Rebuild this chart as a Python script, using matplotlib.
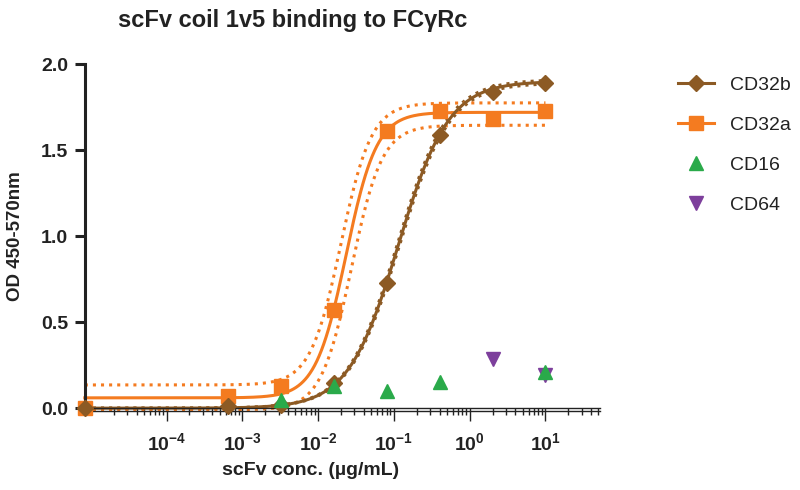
import numpy as np
import matplotlib
matplotlib.use('Agg')
import matplotlib.pyplot as plt
from matplotlib.ticker import LogLocator, FixedLocator, NullFormatter

plt.rcParams['font.family'] = ['Liberation Sans', 'DejaVu Sans']
plt.rcParams['mathtext.fontset'] = 'custom'
plt.rcParams['mathtext.rm'] = 'Liberation Sans'
plt.rcParams['mathtext.bf'] = 'Liberation Sans:bold'

# concentrations (ug/mL), 5-fold dilutions from 10, first point = blank
conc = [8.3e-6, 0.00064, 0.0032, 0.016, 0.08, 0.4, 2.0, 10.0]

cd32b = [0.0, 0.015, 0.02, 0.145, 0.73, 1.59, 1.84, 1.89]
cd32a = [0.0, 0.07, 0.13, 0.57, 1.61, 1.73, 1.68, 1.73]
cd16 = [np.nan, np.nan, 0.05, 0.13, 0.10, 0.15, np.nan, 0.21]
cd64 = [np.nan, np.nan, np.nan, np.nan, np.nan, np.nan, 0.285, 0.19]

# 4PL fit parameters: bottom, top, logEC50, hill
fit_32b = (0.0, 1.90, -0.941, 1.31)
fit_32b_lo = (0.0, 1.89, -0.928, 1.31)
fit_32b_hi = (0.0, 1.91, -0.954, 1.31)
fit_32a = (0.06, 1.72, -1.632, 2.15)
fit_32a_hi = (0.135, 1.775, -1.70, 2.15)
fit_32a_lo = (-0.01, 1.645, -1.56, 2.15)

brown = '#8c5a24'
orange = '#f47b20'
green = '#2aaa4a'
purple = '#7d3f9c'
ink = '#222222'


def four_pl(x, p):
    b, t, L, h = p
    return b + (t - b) / (1 + 10 ** ((L - np.log10(x)) * h))


fig = plt.figure(figsize=(8, 4.9), dpi=100)
ax = fig.add_axes([0.106, 0.167, 0.644, 0.702])

xs = np.logspace(np.log10(conc[0]), 1, 400)

ax.plot(xs, four_pl(xs, fit_32b_lo), ':', color=brown, lw=2.2, clip_on=False)
ax.plot(xs, four_pl(xs, fit_32b_hi), ':', color=brown, lw=2.2, clip_on=False)
ax.plot(xs, four_pl(xs, fit_32a_hi), ':', color=orange, lw=2.2, clip_on=False)
ax.plot(xs, four_pl(xs, fit_32a_lo), ':', color=orange, lw=2.2, clip_on=False)
ax.plot(xs, four_pl(xs, fit_32a), '-', color=orange, lw=2.2, clip_on=False)
ax.plot(xs, four_pl(xs, fit_32b), '-', color=brown, lw=2.2, clip_on=False)

ax.plot(conc, cd32a, 's', color=orange, ms=10, clip_on=False, zorder=4)
ax.plot(conc, cd32b, 'D', color=brown, ms=8, clip_on=False, zorder=5)
ax.plot(conc, cd16, '^', color=green, ms=10, ls='none', clip_on=False, zorder=6)
ax.plot(conc, cd64, 'v', color=purple, ms=10, ls='none', clip_on=False, zorder=5)

# legend handles
ax.plot([], [], '-D', color=brown, ms=8, lw=2.2, label='CD32b')
ax.plot([], [], '-s', color=orange, ms=10, lw=2.2, label='CD32a')
ax.plot([], [], '^', color=green, ms=10, ls='none', label='CD16')
ax.plot([], [], 'v', color=purple, ms=10, ls='none', label='CD64')
handles, labels = ax.get_legend_handles_labels()
fig.legend(handles[-4:], labels[-4:], loc='upper left', bbox_to_anchor=(0.825, 0.88),
           frameon=False, fontsize=14, handlelength=1.9, labelspacing=1.15,
           handletextpad=0.8, labelcolor=ink)

ax.set_xscale('log')
ax.set_xlim(conc[0], 10 ** 1.72)
ax.set_ylim(0, 2.0)
ax.set_yticks([0.0, 0.5, 1.0, 1.5, 2.0])
ax.set_yticklabels(['0.0', '0.5', '1.0', '1.5', '2.0'])
ax.xaxis.set_major_locator(FixedLocator([1e-4, 1e-3, 1e-2, 1e-1, 1, 10]))
ax.set_xticklabels(['$\\mathbf{10^{-4}}$', '$\\mathbf{10^{-3}}$', '$\\mathbf{10^{-2}}$',
                    '$\\mathbf{10^{-1}}$', '$\\mathbf{10^{0}}$', '$\\mathbf{10^{1}}$'])
ax.xaxis.set_minor_locator(LogLocator(base=10, subs=np.arange(2, 10), numticks=20))
ax.xaxis.set_minor_formatter(NullFormatter())

for s in ['top', 'right']:
    ax.spines[s].set_visible(False)
ax.spines['left'].set_linewidth(2.2)
ax.spines['left'].set_color(ink)
ax.spines['bottom'].set_linewidth(1.0)
ax.spines['bottom'].set_color(ink)
ax.axhline(-0.018, color=ink, lw=1.0, clip_on=False)

ax.tick_params(axis='y', direction='out', length=7, width=2.2, labelsize=14,
               color=ink, pad=5)
ax.tick_params(axis='x', which='major', direction='out', length=9, width=1.0,
               labelsize=14, pad=8, color=ink)
ax.tick_params(axis='x', which='minor', direction='out', length=5, width=1.0,
               color=ink)
for lab in ax.get_yticklabels():
    lab.set_fontweight('bold')
    lab.set_color(ink)
for lab in ax.get_xticklabels():
    lab.set_color(ink)

fig.text(0.019, 0.518, 'OD 450-570nm', fontsize=13.5, fontweight='bold', color=ink,
         rotation=90, ha='center', va='center')
fig.text(0.388, 0.04, 'scFv conc. (µg/mL)', fontsize=14, fontweight='bold',
         color=ink, ha='center', va='center')
fig.text(0.366, 0.958, 'scFv coil 1v5 binding to FCγRc', fontsize=17, fontweight='bold',
         color=ink, ha='center', va='center')

fig.savefig('out.png', dpi=100)
